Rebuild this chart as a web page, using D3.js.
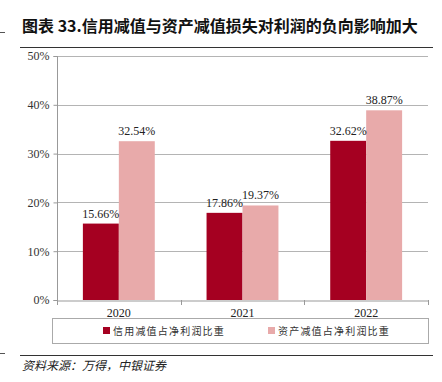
<!DOCTYPE html>
<html><head><meta charset="utf-8">
<script src="https://cdn.jsdelivr.net/npm/d3@7"></script>
<style>body{margin:0;background:#fff}svg{display:block}</style>
</head><body><svg id="c" width="442" height="382"></svg>
<script>
const categories = ["2020", "2021", "2022"];
const seriesNames = ["信用减值占净利润比重", "资产减值占净利润比重"];
const creditValues = [15.66, 17.86, 32.62];
const assetValues = [32.54, 19.37, 38.87];
const yTicks = [0, 10, 20, 30, 40, 50];
const colors = ["#A50021", "#E8AAAA"];

const svg = d3.select("#c");
const m = {l: 57, r: 428, t: 56, b: 300};
const x = d3.scaleBand().domain(categories).range([m.l, m.r]).paddingInner(0).paddingOuter(0);
const x1 = d3.scaleBand().domain([0, 1]).range([0, x.bandwidth()]).paddingInner(0).paddingOuter(0.72);
const y = d3.scaleLinear().domain([0, 50]).range([m.b, m.t]);
const serif = "'Liberation Serif','Times New Roman',serif";
const cjk = "'Noto Sans CJK SC','Noto Sans CJK JP',sans-serif";

// title
svg.append("text").attr("x", 22).attr("y", 32).attr("font-family", cjk).attr("font-weight", "bold")
  .attr("font-size", 16).attr("fill", "#111").text("图表 33.信用减值与资产减值损失对利润的负向影响加大");
svg.append("line").attr("x1", 20).attr("x2", 433).attr("y1", 47.5).attr("y2", 47.5).attr("stroke", "#333").attr("stroke-width", 1.2);
// edge marks from neighbouring frames
svg.append("line").attr("x1", 0).attr("x2", 5).attr("y1", 32.5).attr("y2", 32.5).attr("stroke", "#555");
svg.append("line").attr("x1", 0).attr("x2", 5).attr("y1", 353.5).attr("y2", 353.5).attr("stroke", "#555");

// grid
svg.append("g").selectAll("line").data(yTicks.slice(1)).join("line")
  .attr("x1", m.l).attr("x2", m.r).attr("y1", d => Math.round(y(d)) + 0.5).attr("y2", d => Math.round(y(d)) + 0.5)
  .attr("stroke", "#b4b4b4").attr("stroke-width", 1);

// y axis
const ya = svg.append("g").attr("transform", `translate(${m.l + 0.5},0)`)
  .call(d3.axisLeft(y).tickValues(yTicks).tickSize(4).tickPadding(4).tickFormat(d => d + "%"));
ya.select(".domain").attr("stroke", "#999").attr("d", `M-4,${y(50)+0.5}H0V${y(0)+0.5}H-4`);
ya.selectAll(".tick line").attr("stroke", "#999");
ya.selectAll("text").attr("font-family", serif).attr("font-size", 12).attr("fill", "#333");

// bars
const groups = svg.append("g").selectAll("g").data(categories).join("g")
  .attr("transform", d => `translate(${x(d)},0)`);
const rows = categories.map((c, i) => [creditValues[i], assetValues[i]]);
groups.selectAll("rect").data((d, i) => rows[i]).join("rect")
  .attr("x", (d, j) => x1(j)).attr("width", x1.bandwidth())
  .attr("y", d => y(d)).attr("height", d => y(0) - y(d))
  .attr("fill", (d, j) => colors[j]);
groups.selectAll("text").data((d, i) => rows[i]).join("text")
  .attr("x", (d, j) => x1(j) + x1.bandwidth() / 2).attr("y", d => y(d) - 6)
  .attr("text-anchor", "middle").attr("font-family", serif).attr("font-size", 12).attr("fill", "#222")
  .text(d => d.toFixed(2) + "%");

// x axis
const xa = svg.append("g").attr("transform", `translate(0,${m.b + 0.5})`)
  .call(d3.axisBottom(x).tickSize(0).tickPadding(8));
xa.select(".domain").attr("stroke", "#999");
xa.selectAll("text").attr("font-family", serif).attr("font-size", 12).attr("fill", "#222");
svg.append("g").selectAll("line").data(categories.concat(["end"])).join("line")
  .attr("x1", (d, i) => i < categories.length ? Math.round(x(d)) + 0.5 : m.r + 0.5)
  .attr("x2", (d, i) => i < categories.length ? Math.round(x(d)) + 0.5 : m.r + 0.5)
  .attr("y1", m.b).attr("y2", m.b + 5).attr("stroke", "#999");

// legend
svg.append("rect").attr("x", 52.5).attr("y", 318.5).attr("width", 376).attr("height", 25)
  .attr("fill", "none").attr("stroke", "#aaa");
const lx = [103, 268];
seriesNames.forEach((n, i) => {
  svg.append("rect").attr("x", lx[i]).attr("y", 327).attr("width", 7).attr("height", 7).attr("fill", colors[i]);
  svg.append("text").attr("x", lx[i] + 10).attr("y", 335).attr("font-family", cjk).attr("font-size", 10)
    .attr("letter-spacing", 1.2).attr("fill", "#333").text(n);
});

// source
svg.append("line").attr("x1", 20).attr("x2", 433).attr("y1", 355.5).attr("y2", 355.5).attr("stroke", "#333").attr("stroke-width", 1.2);
svg.append("text").attr("x", 22).attr("y", 370).attr("font-family", cjk).attr("font-style", "italic")
  .attr("font-size", 12).attr("fill", "#222").text("资料来源：万得，中银证券");
</script></body></html>
